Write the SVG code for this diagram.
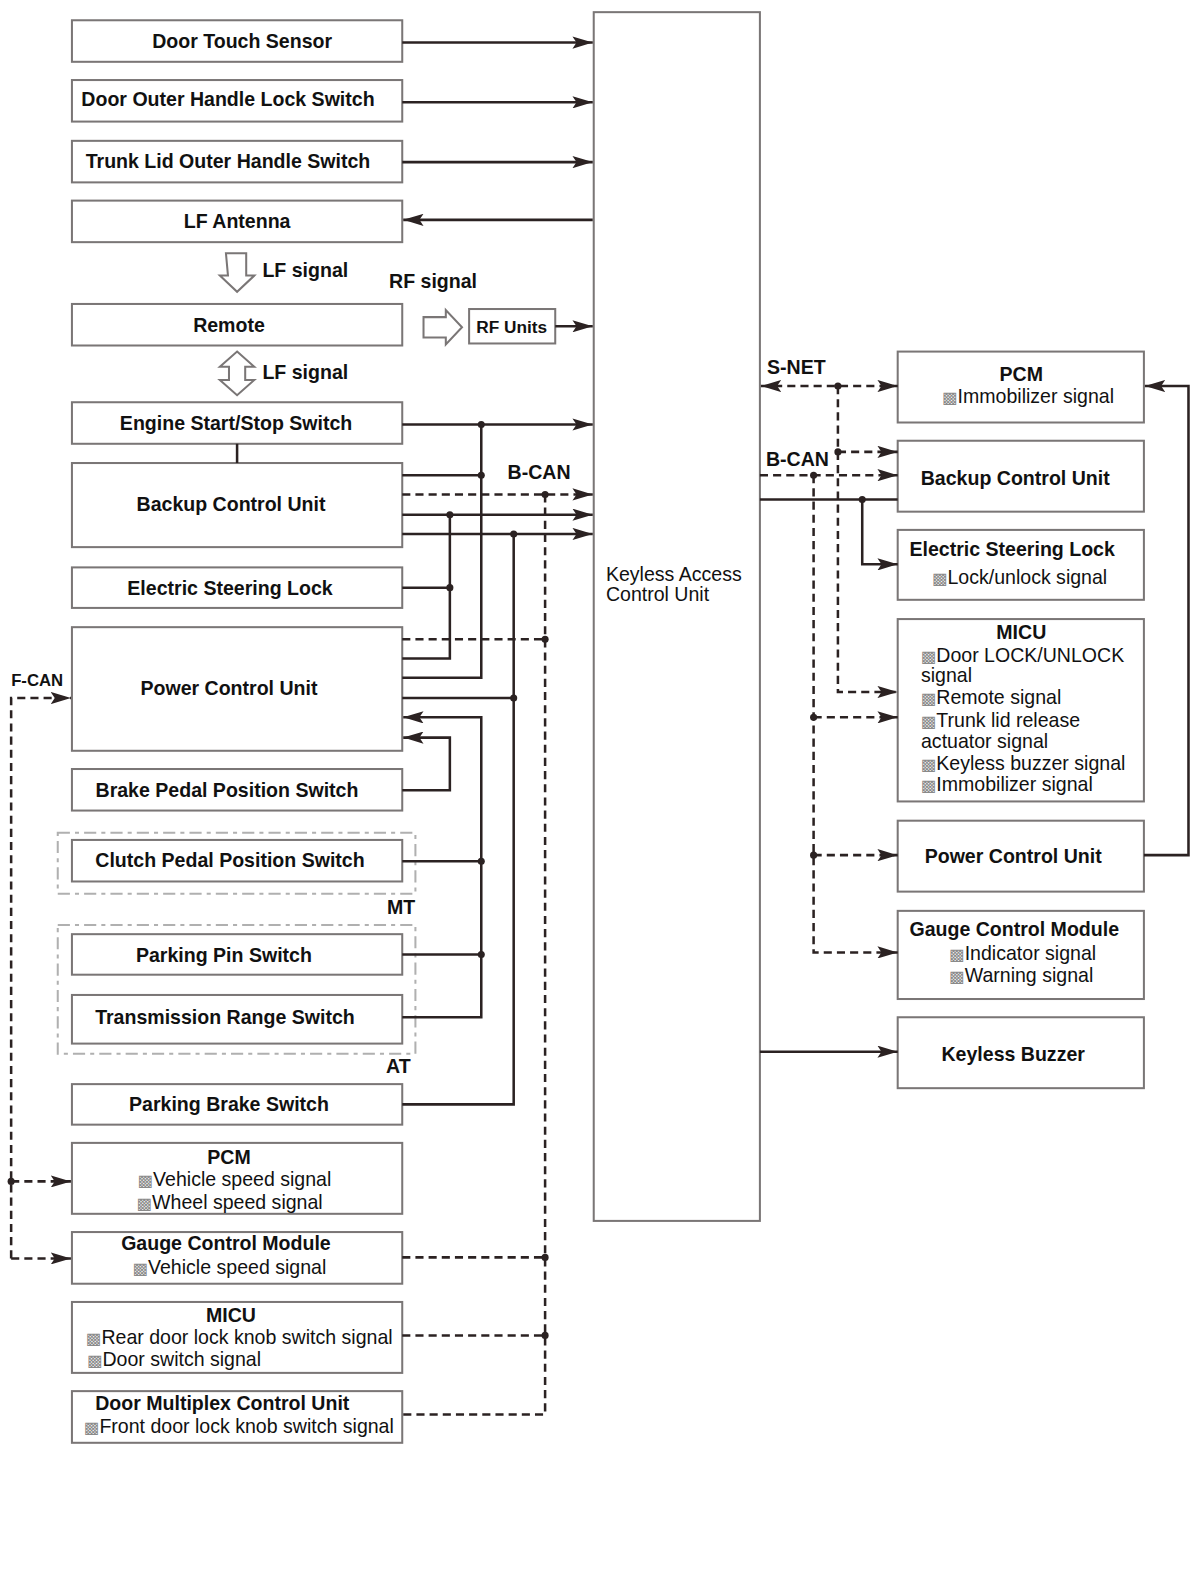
<svg xmlns="http://www.w3.org/2000/svg" width="1200" height="1589" viewBox="0 0 1200 1589">
<style>
.box{fill:#fff;stroke:#7a7676;stroke-width:2}
.grp{fill:none;stroke:#b0b0b0;stroke-width:2;stroke-dasharray:12 5 4 5}
.ln{fill:none;stroke:#2b2222;stroke-width:2.5}
.dl{fill:none;stroke:#2b2222;stroke-width:2.5;stroke-dasharray:8 5}
.ar{marker-end:url(#ah)}
.t{font-family:"Liberation Sans",Arial,sans-serif;font-size:19.3px;font-weight:bold;fill:#111}
.c{text-anchor:middle}
.s{font-family:"Liberation Sans",Arial,sans-serif;font-size:19.3px;fill:#111}
.b{font-family:"DejaVu Sans",sans-serif;font-size:16px;fill:#8a8a8a}
.lab{font-family:"Liberation Sans",Arial,sans-serif;font-size:19.3px;font-weight:bold;fill:#111}
.hol{fill:#fff;stroke:#7a7676;stroke-width:2}
.dot{fill:#2b2222}
</style>
<defs>
<marker id="ah" viewBox="0 0 20 12" refX="20" refY="6" markerWidth="20" markerHeight="12" markerUnits="userSpaceOnUse" orient="auto-start-reverse">
<path d="M0,0 L20,6 L0,12 L4,6 z" fill="#2b2222"/>
</marker>
</defs>
<rect width="1200" height="1589" fill="#fff"/>
<g transform="scale(1.0132)">
<g id="kacu"><rect class="box" x="586" y="12" width="164" height="1193"/>
<text class="s" x="598" y="573">Keyless Access</text><text class="s" x="598" y="593">Control Unit</text></g>

<g id="door-touch-sensor"><rect class="box" x="71" y="20" width="326" height="41"/><text class="t c" x="239" y="47">Door Touch Sensor</text></g>
<g id="door-outer-handle"><rect class="box" x="71" y="79" width="326" height="41"/><text class="t c" x="225" y="105">Door Outer Handle Lock Switch</text></g>
<g id="trunk-lid"><rect class="box" x="71" y="139" width="326" height="41"/><text class="t c" x="225" y="166">Trunk Lid Outer Handle Switch</text></g>
<g id="lf-antenna"><rect class="box" x="71" y="198" width="326" height="41"/><text class="t c" x="234" y="225">LF Antenna</text></g>
<g id="remote"><rect class="box" x="71" y="300" width="326" height="41"/><text class="t c" x="226" y="328">Remote</text></g>
<g id="rf-units"><rect class="box" x="463" y="305" width="85" height="34"/><text class="t c" x="505" y="329" style="font-size:17px">RF Units</text></g>
<g id="engine-start"><rect class="box" x="71" y="397" width="326" height="41"/><text class="t c" x="233" y="424">Engine Start/Stop Switch</text></g>
<g id="bcu-left"><rect class="box" x="71" y="457" width="326" height="83"/><text class="t c" x="228" y="504">Backup Control Unit</text></g>
<g id="esl-left"><rect class="box" x="71" y="560" width="326" height="40"/><text class="t c" x="227" y="587">Electric Steering Lock</text></g>
<g id="pcu-left"><rect class="box" x="71" y="619" width="326" height="122"/><text class="t c" x="226" y="686">Power Control Unit</text></g>
<g id="brake"><rect class="box" x="71" y="759" width="326" height="41"/><text class="t c" x="224" y="787">Brake Pedal Position Switch</text></g>
<g id="mt-group"><rect class="grp" x="57" y="822" width="353" height="60"/><text class="lab" x="382" y="902">MT</text></g>
<g id="clutch"><rect class="box" x="71" y="829" width="326" height="41"/><text class="t c" x="227" y="856">Clutch Pedal Position Switch</text></g>
<g id="at-group"><rect class="grp" x="57" y="913" width="353" height="127"/><text class="lab" x="381" y="1059">AT</text></g>
<g id="parking-pin"><rect class="box" x="71" y="922" width="326" height="40"/><text class="t c" x="221" y="949">Parking Pin Switch</text></g>
<g id="trans-range"><rect class="box" x="71" y="982" width="326" height="48"/><text class="t c" x="222" y="1011">Transmission Range Switch</text></g>
<g id="parking-brake"><rect class="box" x="71" y="1070" width="326" height="40"/><text class="t c" x="226" y="1097">Parking Brake Switch</text></g>
<g id="pcm-left"><rect class="box" x="71" y="1128" width="326" height="70"/><text class="t c" x="226" y="1149">PCM</text>
<text class="s" x="136" y="1171"><tspan class="b">▩</tspan>Vehicle speed signal</text>
<text class="s" x="135" y="1193"><tspan class="b">▩</tspan>Wheel speed signal</text></g>
<g id="gcm-left"><rect class="box" x="71" y="1216" width="326" height="51"/><text class="t c" x="223" y="1234">Gauge Control Module</text>
<text class="s" x="131" y="1257"><tspan class="b">▩</tspan>Vehicle speed signal</text></g>
<g id="micu-left"><rect class="box" x="71" y="1285" width="326" height="70"/><text class="t c" x="228" y="1305">MICU</text>
<text class="s" x="85" y="1326"><tspan class="b">▩</tspan>Rear door lock knob switch signal</text>
<text class="s" x="86" y="1348"><tspan class="b">▩</tspan>Door switch signal</text></g>
<g id="door-multiplex"><rect class="box" x="71" y="1373" width="326" height="51"/><text class="t" x="94" y="1392">Door Multiplex Control Unit</text>
<text class="s" x="83" y="1414"><tspan class="b">▩</tspan>Front door lock knob switch signal</text></g>

<g id="pcm-right"><rect class="box" x="886" y="347" width="243" height="70"/><text class="t c" x="1008" y="376">PCM</text>
<text class="s" x="930" y="398"><tspan class="b">▩</tspan>Immobilizer signal</text></g>
<g id="bcu-right"><rect class="box" x="886" y="435" width="243" height="70"/><text class="t c" x="1002" y="479">Backup Control Unit</text></g>
<g id="esl-right"><rect class="box" x="886" y="523" width="243" height="69"/><text class="t c" x="999" y="549">Electric Steering Lock</text>
<text class="s" x="920" y="576"><tspan class="b">▩</tspan>Lock/unlock signal</text></g>
<g id="micu-right"><rect class="box" x="886" y="611" width="243" height="180"/><text class="t c" x="1008" y="631">MICU</text>
<text class="s" x="909" y="653"><tspan class="b">▩</tspan>Door LOCK/UNLOCK</text>
<text class="s" x="909" y="673">signal</text>
<text class="s" x="909" y="695"><tspan class="b">▩</tspan>Remote signal</text>
<text class="s" x="909" y="718"><tspan class="b">▩</tspan>Trunk lid release</text>
<text class="s" x="909" y="738">actuator signal</text>
<text class="s" x="909" y="760"><tspan class="b">▩</tspan>Keyless buzzer signal</text>
<text class="s" x="909" y="781"><tspan class="b">▩</tspan>Immobilizer signal</text></g>
<g id="pcu-right"><rect class="box" x="886" y="810" width="243" height="70"/><text class="t c" x="1000" y="852">Power Control Unit</text></g>
<g id="gcm-right"><rect class="box" x="886" y="899" width="243" height="87"/><text class="t c" x="1001" y="924">Gauge Control Module</text>
<text class="s" x="937" y="947"><tspan class="b">▩</tspan>Indicator signal</text>
<text class="s" x="937" y="969"><tspan class="b">▩</tspan>Warning signal</text></g>
<g id="keyless-buzzer"><rect class="box" x="886" y="1004" width="243" height="70"/><text class="t c" x="1000" y="1047">Keyless Buzzer</text></g>

<g id="signal-arrows">
<path class="hol" d="M223,250 H243 V272 H251 L234,288 L217,272 H225 Z"/>
<path class="hol" d="M234,347 L251,362 H242 V375 H251 L234,390 L217,375 H226 V362 H217 Z"/>
<path class="hol" d="M418,313 H440 V306 L456,323 L440,340 V333 H418 Z"/>
<text class="lab" x="259" y="273">LF signal</text>
<text class="lab" x="384" y="284">RF signal</text>
<text class="lab" x="259" y="374">LF signal</text>
</g>

<g id="connectors">
<path class="ln ar" d="M397,42 H585"/>
<path class="ln ar" d="M397,101 H585"/>
<path class="ln ar" d="M397,160 H585"/>
<path class="ln ar" d="M585,217 H398"/>
<path class="ln ar" d="M548,322 H585"/>
<path class="ln ar" d="M397,419 H585"/>
<path class="ln" d="M234,438 V457"/>
<path class="ln" d="M397,469 H475"/>
<path class="ln" d="M475,419 V669 H397"/>
<path class="ln ar" d="M397,508 H585"/>
<path class="ln" d="M444,508 V650 H397"/>
<path class="ln" d="M397,580 H444"/>
<path class="ln ar" d="M397,527 H585"/>
<path class="ln" d="M507,527 V1090 H397"/>
<path class="ln" d="M397,689 H507"/>
<path class="ln ar" d="M397,1004 H475 V708 H398"/>
<path class="ln" d="M397,850 H475"/>
<path class="ln" d="M397,942 H475"/>
<path class="ln ar" d="M397,780 H444 V728 H398"/>
<path class="dl ar" d="M397,488 H585"/>
<path class="dl" d="M538,488 V1396 H397"/>
<path class="dl" d="M397,631 H538"/>
<path class="dl" d="M397,1241 H538"/>
<path class="dl" d="M397,1318 H538"/>
<path class="dl ar" d="M11,1242 V689 H70"/>
<path class="dl ar" d="M11,1242 H70"/>
<path class="dl ar" d="M11,1166 H70"/>
<path class="dl ar" d="M751,381 H886" style="marker-start:url(#ah)"/>
<path class="dl ar" d="M827,381 V683 H886"/>
<path class="dl ar" d="M827,446 H886"/>
<path class="dl ar" d="M750,469 H886"/>
<path class="dl ar" d="M803,469 V940 H886"/>
<path class="dl ar" d="M803,708 H886"/>
<path class="dl ar" d="M803,844 H886"/>
<path class="ln" d="M750,493 H886"/>
<path class="ln ar" d="M851,493 V557 H886"/>
<path class="ln ar" d="M1129,844 H1173 V381 H1130"/>
<path class="ln ar" d="M750,1038 H886"/>
<g class="dot">
<circle cx="475" cy="419" r="3.5"/><circle cx="475" cy="469" r="3.5"/><circle cx="444" cy="508" r="3.5"/><circle cx="444" cy="580" r="3.5"/>
<circle cx="507" cy="527" r="3.5"/><circle cx="507" cy="689" r="3.5"/><circle cx="475" cy="850" r="3.5"/><circle cx="475" cy="942" r="3.5"/>
<circle cx="538" cy="488" r="3.5"/><circle cx="538" cy="631" r="3.5"/><circle cx="538" cy="1241" r="3.5"/><circle cx="538" cy="1318" r="3.5"/>
<circle cx="11" cy="1166" r="3.5"/><circle cx="827" cy="381" r="3.5"/><circle cx="827" cy="446" r="3.5"/><circle cx="803" cy="469" r="3.5"/>
<circle cx="803" cy="708" r="3.5"/><circle cx="803" cy="844" r="3.5"/><circle cx="851" cy="493" r="3.5"/>
</g>
<text class="lab" x="501" y="473">B-CAN</text>
<text class="lab" x="757" y="369">S-NET</text>
<text class="lab" x="756" y="460">B-CAN</text>
<text class="lab" x="11" y="677" style="font-size:16.5px">F-CAN</text>
</g>
</g>
</svg>
